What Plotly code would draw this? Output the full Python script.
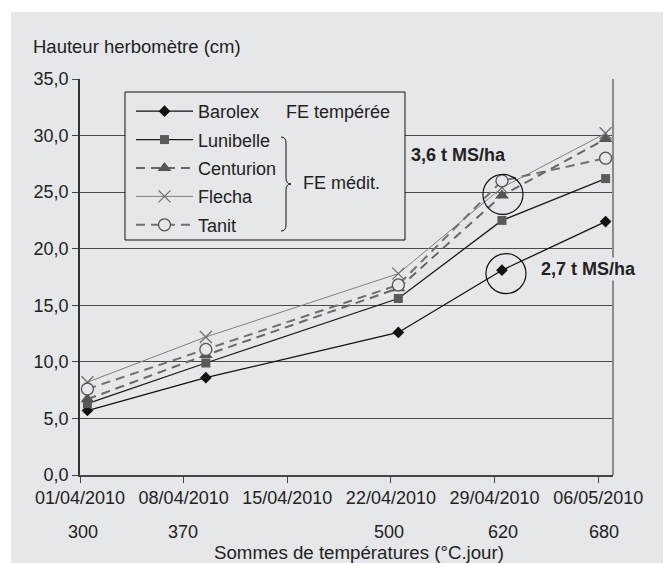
import plotly.graph_objects as go

# ---- data ----
dates = ["2010-04-01 12:00", "2010-04-09 12:00", "2010-04-22 12:00", "2010-04-29 12:00", "2010-05-06 12:00"]
barolex = [5.7, 8.6, 12.6, 18.1, 22.4]
lunibelle = [6.3, 9.9, 15.6, 22.5, 26.2]
centurion = [6.7, 10.6, 16.5, 24.7, 29.7]
flecha = [8.2, 12.2, 17.8, 25.4, 30.2]
tanit = [7.6, 11.1, 16.8, 26.0, 28.0]
date_ticks = ["2010-04-01", "2010-04-08", "2010-04-15", "2010-04-22", "2010-04-29", "2010-05-06"]
temp_sums = ["300", "370", "500", "620", "680"]

# ---- layout helpers (reference pixel -> paper); page body has an 8px margin ----
OFF = 8
W, H = 671 - OFF, 563 - OFF
L, R, T, B = 72, 58, 71, 88
PW, PH = W - L - R, H - T - B
def px(x):
    return (x - OFF - L) / PW
def py(y):
    return (H - B - (y - OFF)) / PH

BG = "#e6e7e9"
FONT = "Liberation Sans, Arial, sans-serif"
TXT = "#222222"
FS = 18

fig = go.Figure()

fig.add_trace(go.Scatter(x=dates, y=barolex, name="Barolex", mode="lines+markers",
                         line=dict(color="#111111", width=1.3),
                         marker=dict(symbol="diamond", size=9, color="#111111"),
                         legendgroup="a"))
fig.add_trace(go.Scatter(x=dates, y=lunibelle, name="Lunibelle", mode="lines+markers",
                         line=dict(color="#1a1a1a", width=1.3),
                         marker=dict(symbol="square", size=9, color="#5a5a5a"),
                         legendgroup="b"))
fig.add_trace(go.Scatter(x=dates, y=centurion, name="Centurion", mode="lines+markers",
                         line=dict(color="#666666", width=2, dash="9px,6px"),
                         marker=dict(symbol="triangle-up", size=12, color="#555555"),
                         legendgroup="c"))
fig.add_trace(go.Scatter(x=dates, y=flecha, name="Flecha", mode="lines+markers",
                         line=dict(color="#808080", width=1),
                         marker=dict(symbol="x-thin-open", size=12, color="#707070",
                                     line=dict(width=1.3, color="#707070")),
                         legendgroup="d"))
fig.add_trace(go.Scatter(x=dates, y=tanit, name="Tanit", mode="lines+markers",
                         line=dict(color="#707070", width=2, dash="9px,6px"),
                         marker=dict(symbol="circle", size=12, color=BG,
                                     line=dict(width=1.3, color="#555555")),
                         legendgroup="e"))

shapes = []
# white outer strips
shapes.append(dict(type="rect", xref="paper", yref="paper", x0=px(0), x1=px(671), y0=py(0), y1=py(12),
                   fillcolor="white", line=dict(width=0), layer="below"))
shapes.append(dict(type="rect", xref="paper", yref="paper", x0=px(0), x1=px(11), y0=py(0), y1=py(563),
                   fillcolor="white", line=dict(width=0), layer="below"))
# right frame line
shapes.append(dict(type="line", xref="paper", yref="paper", x0=1, x1=1, y0=0, y1=1,
                   line=dict(color="#8a8a8a", width=2)))
# legend box
shapes.append(dict(type="rect", xref="paper", yref="paper", x0=px(125), x1=px(405), y0=py(240), y1=py(92),
                   fillcolor=BG, line=dict(color="#111111", width=1), layer="above"))
# brace
bx = 286
brace = (f"M {px(bx-5)},{py(137)} Q {px(bx)},{py(137)} {px(bx)},{py(143)} "
         f"L {px(bx)},{py(178)} Q {px(bx)},{py(184)} {px(bx+5)},{py(184)} "
         f"Q {px(bx)},{py(184)} {px(bx)},{py(190)} L {px(bx)},{py(225)} "
         f"Q {px(bx)},{py(231)} {px(bx-5)},{py(231)}")
shapes.append(dict(type="path", xref="paper", yref="paper", path=brace,
                   line=dict(color="#111111", width=1), layer="above"))
# highlight circles
shapes.append(dict(type="circle", xref="x", yref="y", xsizemode="pixel", ysizemode="pixel",
                   xanchor=dates[3], yanchor=24.8, x0=-19, x1=21, y0=-20, y1=20,
                   line=dict(color="#111111", width=1.2)))
shapes.append(dict(type="circle", xref="x", yref="y", xsizemode="pixel", ysizemode="pixel",
                   xanchor=dates[3], yanchor=17.8, x0=-16, x1=24, y0=-20, y1=20,
                   line=dict(color="#111111", width=1.2)))

ann = []
def txt(x, y, s, size=FS, xa="left", bold=False, bg=None):
    d = dict(xref="paper", yref="paper", x=px(x), y=py(y), text=(f"<b>{s}</b>" if bold else s),
             showarrow=False, xanchor=xa, yanchor="middle",
             font=dict(family=FONT, size=size, color=TXT))
    if bg:
        d["bgcolor"] = bg
    ann.append(d)

txt(31, 47, "Hauteur herbomètre (cm)", size=18.5)
txt(284, 112, "FE tempérée")
txt(301, 183, "FE médit.")
txt(458, 155, "3,6 t MS/ha", xa="center", bold=True)
txt(588, 269, "2,7 t MS/ha", xa="center", bold=True, bg=BG)
for xpos, lab in zip([83, 183, 389, 503, 604], temp_sums):
    txt(xpos, 532, lab, xa="center")
txt(359, 552, "Sommes de températures (°C.jour)", size=18.7, xa="center")

fig.update_layout(
    width=W, height=H,
    margin=dict(l=L, r=R, t=T, b=B, pad=0),
    paper_bgcolor=BG, plot_bgcolor=BG,
    font=dict(family=FONT, size=FS, color=TXT),
    separators=", ",
    showlegend=True,
    legend=dict(x=px(131), y=py(93), xanchor="left", yanchor="top",
                bgcolor="rgba(0,0,0,0)", borderwidth=0,
                font=dict(family=FONT, size=FS, color=TXT),
                itemwidth=57, tracegroupgap=2),
    shapes=shapes,
    annotations=ann,
    xaxis=dict(type="date", range=["2010-04-01", "2010-05-07"],
               tickvals=date_ticks, tickformat="%d/%m/%Y",
               ticks="outside", ticklen=6, tickcolor="#444", tickwidth=1.2,
               showgrid=False, showline=True, linecolor="#444", linewidth=1.5,
               zeroline=False, tickfont=dict(size=FS, color=TXT), ticklabelstandoff=0),
    yaxis=dict(range=[0, 35], tickvals=[0, 5, 10, 15, 20, 25, 30, 35], tickformat=".1f",
               ticks="outside", ticklen=6, tickcolor="#444", tickwidth=1.2,
               showgrid=True, gridcolor="#4a4a4a", gridwidth=1,
               showline=True, linecolor="#333", linewidth=1.5, zeroline=False,
               tickfont=dict(size=FS, color=TXT)),
)

fig.write_html("out.html")
